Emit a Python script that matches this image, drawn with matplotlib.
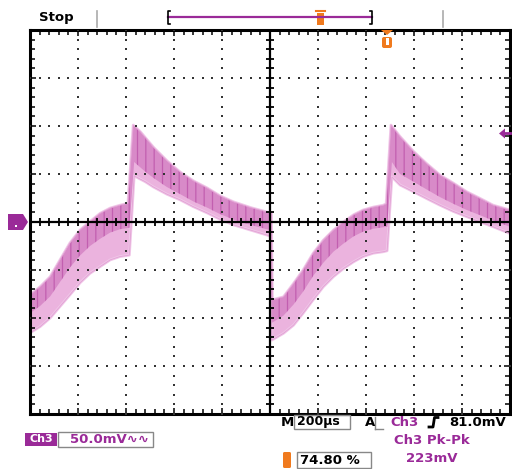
import numpy as np
import matplotlib
matplotlib.use("Agg")
import matplotlib.pyplot as plt
from matplotlib.patches import Rectangle, Polygon, FancyBboxPatch

# ---- data (divisions: x 0..10, y -4..4), persistence envelope of Ch3 ----
top_x = [0, 0.21, 0.42, 0.625, 0.83, 1.04, 1.25, 1.46, 1.67, 1.875,
         2.04, 2.15, 2.3, 2.57, 2.85, 3.13, 3.4, 3.69, 3.95, 4.24,
         4.6, 4.93, 5.03, 5.05, 5.28, 5.49, 5.69, 5.90, 6.11, 6.32,
         6.53, 6.74, 6.94, 7.15, 7.36, 7.42, 7.52, 7.71, 7.99, 8.26,
         8.54, 8.82, 9.10, 9.38, 9.65, 10.0]
top_y = [-1.52, -1.35, -1.14, -0.79, -0.44, -0.17, 0.01, 0.18, 0.29, 0.35,
         0.39, 2.02, 1.88, 1.56, 1.28, 1.04, 0.86, 0.71, 0.55, 0.42,
         0.30, 0.21, 0.18, -1.62, -1.56, -1.28, -1.0, -0.65, -0.38, -0.17,
         0.0, 0.15, 0.25, 0.31, 0.35, 0.38, 2.02, 1.78, 1.47, 1.22,
         0.98, 0.81, 0.63, 0.49, 0.35, 0.25]
bot_x = [0, 0.21, 0.42, 0.625, 0.83, 1.04, 1.25, 1.46, 1.67, 1.875,
         2.07, 2.17, 2.4, 2.57, 2.85, 3.13, 3.4, 3.69, 3.95, 4.24,
         4.6, 4.93, 5.02, 5.04, 5.28, 5.49, 5.69, 5.90, 6.11, 6.32,
         6.53, 6.74, 6.94, 7.15, 7.36, 7.44, 7.54, 7.71, 7.99, 8.26,
         8.54, 8.82, 9.10, 9.38, 9.65, 10.0]
bot_y = [-2.31, -2.18, -2.0, -1.76, -1.52, -1.27, -1.07, -0.93, -0.79, -0.72,
         -0.69, 0.96, 0.84, 0.73, 0.58, 0.46, 0.32, 0.19, 0.06, -0.06,
         -0.17, -0.27, -0.30, -2.46, -2.32, -2.15, -1.9, -1.62, -1.35, -1.14,
         -0.97, -0.83, -0.72, -0.65, -0.62, -0.60, 0.94, 0.77, 0.63, 0.49,
         0.35, 0.22, 0.11, 0.0, -0.10, -0.24]
core_y = [-1.90, -1.75, -1.55, -1.25, -0.95, -0.70, -0.50, -0.35, -0.22, -0.15,
          -0.12, 1.25, 1.05, 0.92, 0.73, 0.58, 0.43, 0.30, 0.17, 0.05,
          -0.06, -0.15, -0.17, -2.10, -1.95, -1.72, -1.45, -1.12, -0.85, -0.62,
          -0.45, -0.30, -0.20, -0.14, -0.11, -0.10, 1.25, 1.00, 0.84, 0.68,
          0.52, 0.38, 0.25, 0.14, 0.03, -0.10]

timebase = "200µs"
volts_div = "50.0mV∿∿"
trig_level = "81.0mV"
meas_name = "Ch3 Pk-Pk"
meas_value = "223mV"
trig_pos = "74.80 %"

PURPLE = "#9a2a98"
ORANGE = "#f07a1e"

W, H = 512, 469
fig = plt.figure(figsize=(W / 100, H / 100), dpi=100)
fig.patch.set_facecolor("white")

L, T, R, B = 30, 30, 510, 414
ax = fig.add_axes([L / W, (H - B) / H, (R - L) / W, (B - T) / H])
ax.set_xlim(0, 10)
ax.set_ylim(-4, 4)
ax.set_facecolor("white")

# waveform envelope
outer = list(zip(top_x, top_y)) + list(zip(bot_x, bot_y))[::-1]
ax.add_patch(Polygon(outer, closed=True, facecolor="#ebb3de", edgecolor="#f0c6e8",
                     lw=2.0, joinstyle="round", zorder=1))
core = list(zip(top_x, top_y)) + list(zip(bot_x, core_y))[::-1]
plt.rcParams["hatch.linewidth"] = 0.9
ax.add_patch(Polygon(core, closed=True, facecolor="#d88ac8", edgecolor="#c25fb0",
                     lw=0, hatch="||", zorder=1.5))
ax.add_patch(Polygon(outer, closed=True, facecolor="none", edgecolor="#e2a2d4",
                     lw=0.6, zorder=1.6))

# graticule dots
dots = np.arange(0, 10.001, 0.2)
ydots = np.arange(-4, 4.001, 0.2)
for gx in range(1, 10):
    if gx == 5:
        continue
    ax.scatter(np.full_like(ydots, gx), ydots, s=1.3, marker="s", color="#333333", lw=0, zorder=3)
for gy in range(-3, 4):
    if gy == 0:
        continue
    ax.scatter(dots, np.full_like(dots, gy), s=1.3, marker="s", color="#333333", lw=0, zorder=3)

# center cross with ticks
ax.axhline(0, color="black", lw=1.6, zorder=3)
ax.axvline(5, color="black", lw=1.6, zorder=3)
ax.plot(dots, np.zeros_like(dots), ls="none", marker="|", ms=6, mew=1.3, color="black", zorder=3)
ax.plot(np.full_like(ydots, 5), ydots, ls="none", marker="_", ms=6, mew=1.3, color="black", zorder=3)

ax.set_xticks(np.arange(0, 10.01, 1))
ax.set_yticks(np.arange(-4, 4.01, 1))
ax.set_xticks(dots, minor=True)
ax.set_yticks(ydots, minor=True)
ax.tick_params(which="both", direction="in", top=True, right=True, bottom=True, left=True,
               labelbottom=False, labelleft=False, width=1.1, color="black")
ax.tick_params(which="major", length=4.5)
ax.tick_params(which="minor", length=3.5)
for s in ax.spines.values():
    s.set_linewidth(2.2)
    s.set_color("black")

# overlay in pixel coords
ov = fig.add_axes([0, 0, 1, 1], zorder=10)
ov.set_xlim(0, W)
ov.set_ylim(H, 0)
ov.axis("off")
ov.patch.set_alpha(0)

FB = dict(fontweight="bold", family="DejaVu Sans")

# top bar
ov.text(39, 17, "Stop", fontsize=9.5, va="center", ha="left", color="black", **FB)
for gx in (97, 443):
    ov.plot([gx, gx], [11, 27], color="#aaaaaa", lw=1.2)
ov.plot([168, 372], [17, 17], color=PURPLE, lw=1.6)
ov.plot([170, 168, 168, 170], [11, 11, 24, 24], color="black", lw=1.2)
ov.plot([370, 372, 372, 370], [11, 11, 24, 24], color="black", lw=1.2)
ov.add_patch(Rectangle((317, 13), 7, 12, color=ORANGE, lw=0))
ov.plot([316, 325], [11.5, 11.5], color=ORANGE, lw=1.5)
# trigger position marker under top
ov.add_patch(Polygon([(381, 30), (393, 30), (387, 35)], closed=True, color=ORANGE, lw=0))
ov.add_patch(FancyBboxPatch((382, 37), 10, 11, boxstyle="round,pad=0,rounding_size=2",
                            color=ORANGE, lw=0))
ov.add_patch(Rectangle((385.7, 38), 2.8, 7, color="white", lw=0))

# left ground marker
ov.add_patch(Polygon([(8, 214), (23, 214), (28, 222), (23, 230), (8, 230)], closed=True,
                     color=PURPLE, lw=0))
ov.add_patch(Rectangle((15, 225), 2, 2, color="white", lw=0))
# right marker
ov.add_patch(Polygon([(499, 133.5), (505, 128.5), (505, 138.5)], closed=True, color=PURPLE, lw=0))
ov.plot([503, 510], [133.5, 133.5], color=PURPLE, lw=2)

# bottom status
ov.text(281, 422, "M", fontsize=9.5, va="center", ha="left", color="black", **FB)
ov.add_patch(Rectangle((294, 415), 56, 14, fill=False, edgecolor="#888888", lw=1))
ov.text(297, 422, timebase, fontsize=9, va="center", ha="left", color="black", **FB)
ov.text(365, 422, "A", fontsize=9.5, va="center", ha="left", color="black", **FB)
ov.plot([375, 383], [429, 429], color="#888888", lw=1)
ov.plot([375, 375], [417, 429], color="#888888", lw=1)
ov.text(390, 422, "Ch3", fontsize=9.5, va="center", ha="left", color=PURPLE, **FB)
ov.plot([429, 433, 434.5, 438], [427, 427, 417.5, 417.5], color="black", lw=2)
ov.text(449, 422, trig_level, fontsize=9.5, va="center", ha="left", color="black", **FB)
ov.text(432, 441, meas_name, fontsize=9.5, va="center", ha="center", color=PURPLE, **FB)
ov.text(432, 458, meas_value, fontsize=9.5, va="center", ha="center", color=PURPLE, **FB)

ov.add_patch(FancyBboxPatch((283, 452), 8, 16, boxstyle="round,pad=0,rounding_size=1.5",
                            color=ORANGE, lw=0))
ov.add_patch(Rectangle((297, 452), 74, 16, fill=False, edgecolor="#888888", lw=1))
ov.text(300, 460.5, trig_pos, fontsize=9.5, va="center", ha="left", color="black", **FB)

ov.add_patch(Rectangle((25, 433), 32, 13, color=PURPLE, lw=0))
ov.text(41, 439.5, "Ch3", fontsize=8, va="center", ha="center", color="white", **FB)
ov.add_patch(Rectangle((58, 432), 95, 15, fill=False, edgecolor="#888888", lw=1))
ov.text(70, 439.5, volts_div, fontsize=9.5, va="center", ha="left", color=PURPLE, **FB)

fig.savefig("out.png", dpi=100, facecolor="white")
